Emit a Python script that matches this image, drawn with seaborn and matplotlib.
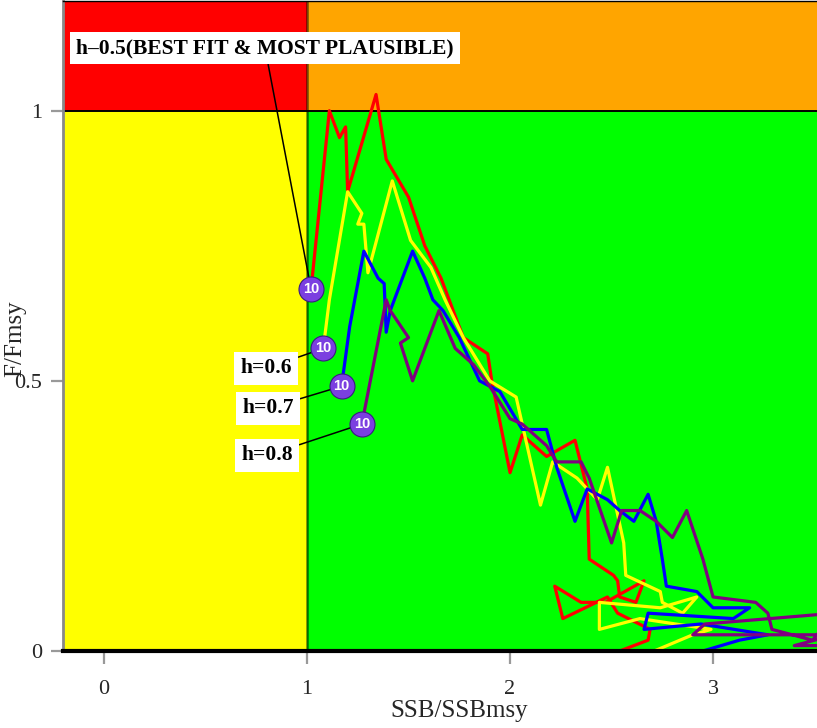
import numpy as np
import pandas as pd
import matplotlib
matplotlib.use("Agg")
import matplotlib.pyplot as plt
import seaborn as sns

# Stock status trajectories (SSB/SSBmsy, F/Fmsy) for four steepness runs,
# ordered from the first year to the final year.
steepness = ["h=0.5", "h=0.6", "h=0.7", "h=0.8"]
line_colors = ["#ff0000", "#ffff00", "#0000ff", "#800080"]

ssb_h05 = [2.54, 2.68, 2.69, 2.53, 2.48, 2.26, 2.22, 2.35, 2.47, 2.66, 2.62, 2.54,
           2.53, 2.51, 2.39, 2.38, 2.32, 2.18, 2.06, 2.00, 1.91, 1.89, 1.77, 1.66,
           1.58, 1.50, 1.39, 1.34, 1.20, 1.19, 1.16, 1.11, 1.02]
f_h05 = [0.00, 0.02, 0.04, 0.07, 0.10, 0.06, 0.12, 0.09, 0.09, 0.13, 0.09, 0.10,
         0.13, 0.14, 0.17, 0.30, 0.39, 0.36, 0.40, 0.33, 0.50, 0.55, 0.58, 0.69,
         0.75, 0.84, 0.91, 1.03, 0.85, 0.97, 0.95, 1.00, 0.67]

ssb_h06 = [2.71, 2.90, 2.99, 2.64, 2.44, 2.44, 2.74, 2.92, 2.85, 2.75, 2.74, 2.57,
           2.56, 2.48, 2.43, 2.33, 2.21, 2.15, 2.03, 1.90, 1.77, 1.68, 1.61, 1.51,
           1.42, 1.30, 1.28, 1.25, 1.27, 1.20, 1.11, 1.08]
f_h06 = [0.00, 0.03, 0.04, 0.06, 0.04, 0.09, 0.08, 0.10, 0.07, 0.09, 0.11, 0.14,
         0.20, 0.34, 0.28, 0.32, 0.35, 0.27, 0.47, 0.50, 0.58, 0.65, 0.71, 0.76,
         0.87, 0.70, 0.79, 0.79, 0.81, 0.85, 0.65, 0.56]

ssb_h07 = [2.95, 3.13, 3.27, 2.94, 2.66, 2.68, 3.10, 3.18, 3.00, 2.92, 2.77, 2.75,
           2.72, 2.68, 2.61, 2.54, 2.48, 2.38, 2.32, 2.23, 2.18, 2.06, 1.95, 1.85,
           1.75, 1.67, 1.62, 1.58, 1.52, 1.41, 1.39, 1.38, 1.35, 1.28, 1.21, 1.17]
f_h07 = [0.00, 0.02, 0.03, 0.05, 0.04, 0.07, 0.06, 0.08, 0.08, 0.11, 0.12, 0.17,
         0.24, 0.29, 0.24, 0.26, 0.28, 0.30, 0.24, 0.34, 0.41, 0.41, 0.48, 0.50,
         0.58, 0.63, 0.65, 0.69, 0.74, 0.63, 0.59, 0.68, 0.69, 0.74, 0.60, 0.49]

ssb_h08 = [3.60, 3.40, 3.60, 2.90, 2.96, 3.60, 3.49, 3.29, 3.27, 3.21, 3.00, 2.95,
           2.87, 2.80, 2.72, 2.64, 2.55, 2.50, 2.39, 2.35, 2.23, 2.18, 2.06, 2.00,
           1.90, 1.82, 1.73, 1.65, 1.52, 1.46, 1.50, 1.41, 1.39, 1.27]
f_h08 = [0.01, 0.01, 0.03, 0.03, 0.05, 0.07, 0.02, 0.04, 0.07, 0.09, 0.10, 0.17,
         0.26, 0.21, 0.24, 0.26, 0.26, 0.20, 0.32, 0.35, 0.35, 0.38, 0.42, 0.43,
         0.49, 0.53, 0.56, 0.63, 0.50, 0.57, 0.58, 0.63, 0.65, 0.42]

run_labels = ["h\u20130.5(BEST FIT & MOST PLAUSIBLE)", "h=0.6", "h=0.7", "h=0.8"]
final_year_tag = "10"

x_ticks = [0, 1, 2, 3]
y_ticks = [0, 0.5, 1]
y_tick_labels = ["0", "0.5", "1"]

ssb_runs = [ssb_h05, ssb_h06, ssb_h07, ssb_h08]
f_runs = [f_h05, f_h06, f_h07, f_h08]

frames = []
for name, xs, ys in zip(steepness, ssb_runs, f_runs):
    frames.append(pd.DataFrame({"run": name, "year": np.arange(len(xs)),
                                "SSB/SSBmsy": xs, "F/Fmsy": ys}))
df = pd.concat(frames, ignore_index=True)

sns.set_theme(style="white")
plt.rcParams["font.family"] = ["Liberation Serif", "DejaVu Serif"]

fig = plt.figure(figsize=(8.17, 7.28), dpi=100)
ax = fig.add_axes([63 / 817, 77 / 728, 1 - 63 / 817, 1 - 77 / 728 - 1 / 728])

xlim = (-0.202, 3.512)
ylim = (0.0, 1.203)
ax.set_xlim(*xlim)
ax.set_ylim(*ylim)

# Kobe quadrants
ax.fill_between([xlim[0], 1], 1, ylim[1], color="#ff0000", lw=0, zorder=0)
ax.fill_between([1, xlim[1]], 1, ylim[1], color="#ffa500", lw=0, zorder=0)
ax.fill_between([xlim[0], 1], 0, 1, color="#ffff00", lw=0, zorder=0)
ax.fill_between([1, xlim[1]], 0, 1, color="#00ff00", lw=0, zorder=0)
ax.axhline(1, color="black", lw=1.4, zorder=1)
ax.axvline(1, color="black", lw=1.8, alpha=0.55, zorder=1)

sns.lineplot(data=df, x="SSB/SSBmsy", y="F/Fmsy", hue="run", units="run",
             estimator=None, sort=False, palette=line_colors, hue_order=steepness,
             lw=2.3, legend=False, ax=ax, zorder=3)

# Final-year markers with callout labels
label_pos = [(0.793, 1.116), (0.798, 0.523), (0.808, 0.449), (0.803, 0.362)]
for xs, ys, text, pos in zip(ssb_runs, f_runs, run_labels, label_pos):
    ax.annotate(text, xy=(xs[-1], ys[-1]), xytext=pos, ha="center", va="center",
                fontsize=15.5, fontweight="bold", color="black", zorder=5,
                bbox=dict(boxstyle="square,pad=0.3", fc="white", ec="none"),
                arrowprops=dict(arrowstyle="-", color="black", lw=1.1,
                                shrinkA=0, shrinkB=0))
    ax.plot(xs[-1], ys[-1], "o", ms=18, mfc="#7b3fe0", mec="#3a1a80", mew=0.8, zorder=6)
    ax.text(xs[-1], ys[-1], final_year_tag, ha="center", va="center", color="white",
            fontsize=10.5, fontweight="bold", family=["Liberation Sans", "DejaVu Sans"],
            zorder=7)

ax.set_xticks(x_ticks)
ax.set_xticklabels([str(t) for t in x_ticks])
ax.set_yticks(y_ticks)
ax.set_yticklabels(y_tick_labels)
ax.tick_params(axis="both", direction="out", length=9, width=1.6, color="#999999",
               labelsize=16, pad=6, bottom=True, left=True)
ax.tick_params(axis="x", pad=12)
ax.set_xlabel("SSB/SSBmsy", fontsize=18)
ax.set_ylabel("F/Fmsy", fontsize=18)
ax.xaxis.set_label_coords((459 - 63) / 754, -(700 - 651) / 651)
ax.yaxis.set_label_coords(-(63 - 26) / 754, (651 - 338) / 651)

for side in ["top", "bottom", "left", "right"]:
    ax.spines[side].set_visible(True)
ax.spines["right"].set_visible(False)
ax.spines["top"].set_color("black")
ax.spines["top"].set_linewidth(1.0)
ax.spines["bottom"].set_color("black")
ax.spines["bottom"].set_linewidth(3.0)
ax.spines["left"].set_color("#888888")
ax.spines["left"].set_linewidth(2.0)
for s in ax.spines.values():
    s.set_zorder(8)

fig.savefig("out.png", dpi=100)
